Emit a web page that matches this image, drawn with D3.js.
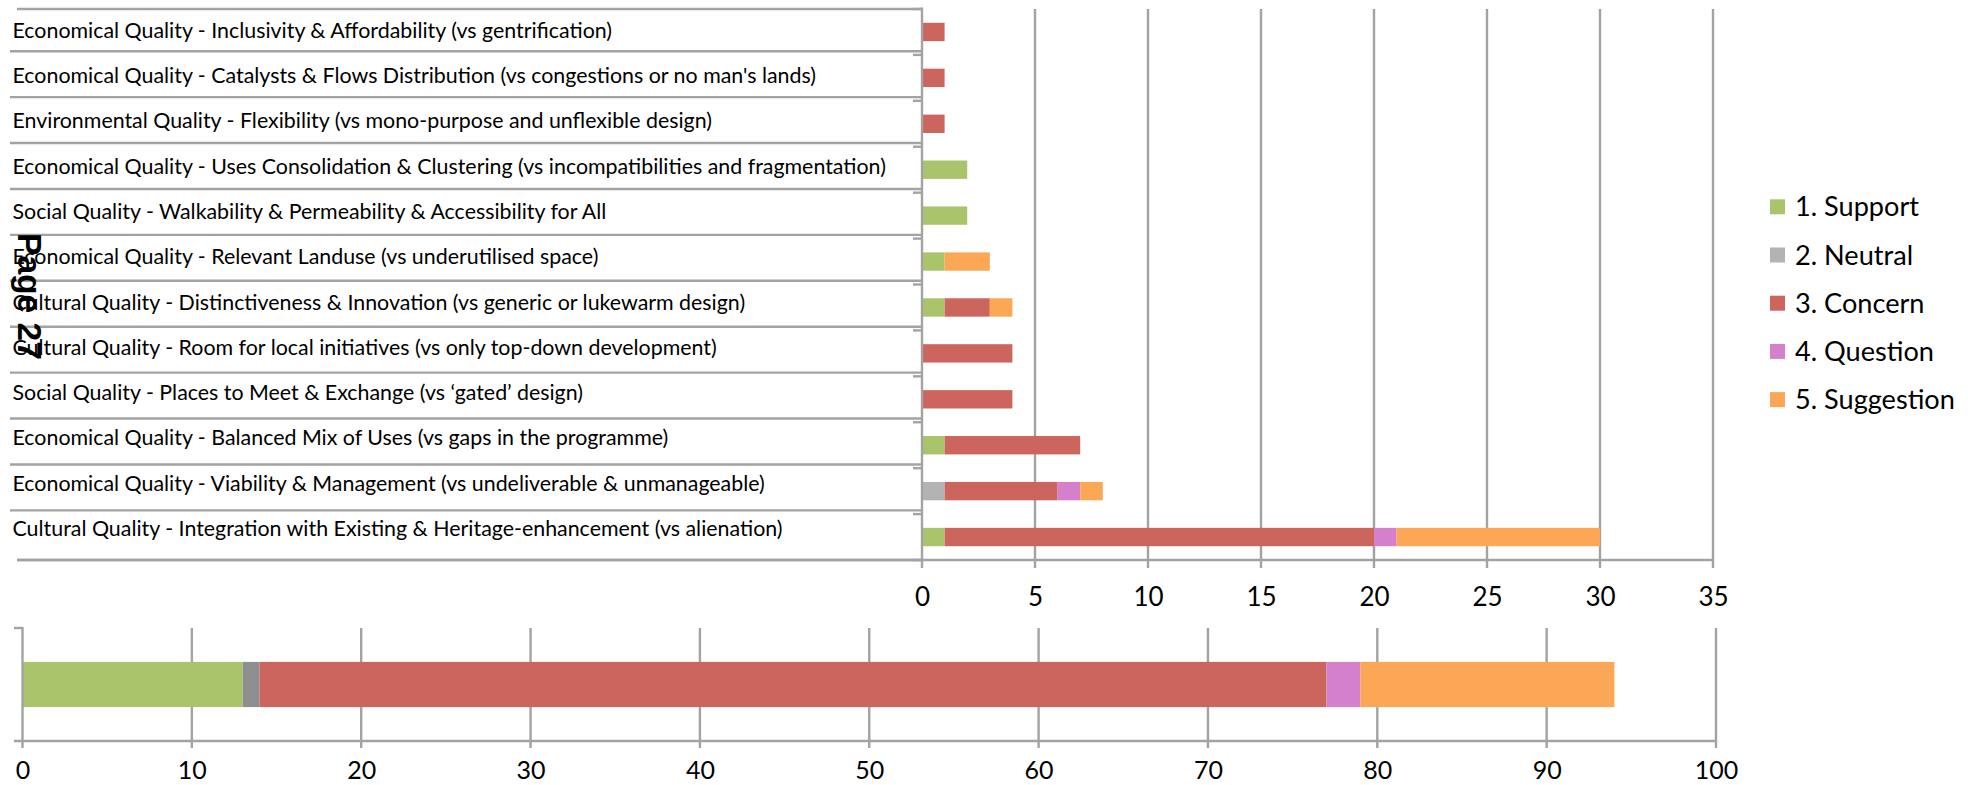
<!DOCTYPE html>
<html>
<head>
<meta charset="utf-8">
<script src="https://cdn.jsdelivr.net/npm/d3@7"></script>
<style>
  html, body { margin: 0; padding: 0; background: #ffffff; }
  svg { display: block; }
  text { font-family: Lato, "Open Sans", sans-serif; fill: #000; }
</style>
</head>
<body>
<svg id="chart" width="1968" height="785"></svg>
<script>
// ---------- data ----------
const categories = [
  "Economical Quality - Inclusivity & Affordability (vs gentrification)",
  "Economical Quality - Catalysts & Flows Distribution (vs congestions or no man's lands)",
  "Environmental Quality - Flexibility (vs mono-purpose and unflexible design)",
  "Economical Quality - Uses Consolidation & Clustering (vs incompatibilities and fragmentation)",
  "Social Quality - Walkability & Permeability & Accessibility for All",
  "Economical Quality - Relevant Landuse (vs underutilised space)",
  "Cultural Quality - Distinctiveness & Innovation (vs generic or lukewarm design)",
  "Cultural Quality - Room for local initiatives (vs only top-down development)",
  "Social Quality - Places to Meet & Exchange (vs \u2018gated\u2019 design)",
  "Economical Quality - Balanced Mix of Uses (vs gaps in the programme)",
  "Economical Quality - Viability & Management (vs undeliverable & unmanageable)",
  "Cultural Quality - Integration with Existing & Heritage-enhancement (vs alienation)"
];
const seriesNames = ["1. Support", "2. Neutral", "3. Concern", "4. Question", "5. Suggestion"];
const support    = [0, 0, 0, 2, 2, 1, 1, 0, 0, 1, 0, 1];
const neutral    = [0, 0, 0, 0, 0, 0, 0, 0, 0, 0, 1, 0];
const concern    = [1, 1, 1, 0, 0, 0, 2, 4, 4, 6, 5, 19];
const question   = [0, 0, 0, 0, 0, 0, 0, 0, 0, 0, 1, 1];
const suggestion = [0, 0, 0, 0, 0, 2, 1, 0, 0, 0, 1, 9];
const totals     = [13, 1, 63, 2, 15];   // bottom summary bar, per series
const topTicks    = [0, 5, 10, 15, 20, 25, 30, 35];
const bottomTicks = [0, 10, 20, 30, 40, 50, 60, 70, 80, 90, 100];
const pageLabel = "Page 27";

// ---------- styles ----------
const colors       = ["#aac46c", "#b3b3b3", "#cd655f", "#d480cc", "#fca755"];
const bottomColors = ["#aac46c", "#8f8f8f", "#cd655f", "#d480cc", "#fca755"];
const gridColor = "#a3a3a3";

const svg = d3.select("#chart");

// ---------- top chart ----------
const keys = seriesNames;
const seriesArrays = [support, neutral, concern, question, suggestion];
const rows = categories.map((c, i) => {
  const o = { cat: c };
  keys.forEach((k, j) => o[k] = seriesArrays[j][i]);
  return o;
});
const stacked = d3.stack().keys(keys)(rows);

const x = d3.scaleLinear().domain([0, 35]).range([922, 1713]);
const y = d3.scaleBand().domain(categories).range([9, 560])
  .paddingInner(0.6).paddingOuter(0.3);
const step = y.step();

// vertical gridlines
svg.append("g").selectAll("line").data(topTicks.filter(t => t > 0)).join("line")
  .attr("x1", d => x(d)).attr("x2", d => x(d))
  .attr("y1", 9).attr("y2", 568)
  .attr("stroke", gridColor).attr("stroke-width", 2.4);

// label area separator lines
const sepG = svg.append("g");
for (let k = 0; k <= categories.length; k++) {
  const b = 9 + k * step;
  let yy, x0;
  if (k === 0) { yy = 9; x0 = 17; }
  else if (k === categories.length) { yy = 560; x0 = 17; }
  else { yy = b - 3.7; x0 = 10; }
  sepG.append("line").attr("x1", x0).attr("x2", 922).attr("y1", yy).attr("y2", yy)
    .attr("stroke", gridColor).attr("stroke-width", 2.4);
  sepG.append("line").attr("x1", 913).attr("x2", 922).attr("y1", b).attr("y2", b)
    .attr("stroke", gridColor).attr("stroke-width", 2.4);
}

// bars
svg.append("g").selectAll("g").data(stacked).join("g")
  .attr("fill", (d, i) => colors[i])
  .selectAll("rect").data(d => d).join("rect")
  .attr("x", d => x(d[0]))
  .attr("width", d => x(d[1]) - x(d[0]))
  .attr("y", d => y(d.data.cat))
  .attr("height", y.bandwidth());

// axis lines
svg.append("line").attr("x1", x(0)).attr("x2", x(0)).attr("y1", 7.5).attr("y2", 568)
  .attr("stroke", gridColor).attr("stroke-width", 2.4);
svg.append("line").attr("x1", 17).attr("x2", x(35) + 1).attr("y1", 560).attr("y2", 560)
  .attr("stroke", gridColor).attr("stroke-width", 2.6);

// x tick labels via d3 axis
const xAxisTop = svg.append("g").attr("transform", "translate(0,560)")
  .call(d3.axisBottom(x).tickValues(topTicks).tickSize(0).tickPadding(0));
xAxisTop.select(".domain").remove();
xAxisTop.selectAll("text").attr("y", 46).attr("dy", null)
  .style("font-family", "Lato, sans-serif").style("font-size", "26px").attr("fill", "#000");

// category labels
const labG = svg.append("g");
const labels = labG.selectAll("text").data(categories).join("text")
  .attr("x", 12.5)
  .attr("y", (d, i) => 37.7 + i * 45.3)
  .style("font-size", "20px")
  .text(d => d);
// fit font size so first label is ~600px wide
const w0 = labels.nodes()[0].getComputedTextLength();
labels.style("font-size", (20 * 600 / w0) + "px");

// legend
const leg = svg.append("g");
const legTexts = [];
seriesNames.forEach((n, i) => {
  const cy = 206.8 + i * 48.2;
  leg.append("rect").attr("x", 1770).attr("y", cy - 7.5).attr("width", 15).attr("height", 15)
    .attr("fill", colors[i]);
  legTexts.push(leg.append("text").attr("x", 1795).attr("y", cy + 9.5)
    .style("font-size", "23px").text(n));
});
const wl = legTexts[4].node().getComputedTextLength();
legTexts.forEach(t => t.style("font-size", (23 * 160 / wl) + "px"));

// ---------- bottom chart ----------
const xb = d3.scaleLinear().domain([0, 100]).range([22.5, 1716]);
const yb = d3.scaleBand().domain(["Total"]).range([628, 741]).paddingInner(0.6).paddingOuter(0.3);
const totRow = { cat: "Total" };
keys.forEach((k, j) => totRow[k] = totals[j]);
const stackedB = d3.stack().keys(keys)([totRow]);

svg.append("g").selectAll("line").data(bottomTicks.filter(t => t > 0)).join("line")
  .attr("x1", d => xb(d)).attr("x2", d => xb(d))
  .attr("y1", 628).attr("y2", 748)
  .attr("stroke", gridColor).attr("stroke-width", 2.4);

svg.append("g").selectAll("rect").data(stackedB).join("rect")
  .attr("fill", (d, i) => bottomColors[i])
  .attr("x", d => xb(d[0][0]))
  .attr("width", d => xb(d[0][1]) - xb(d[0][0]))
  .attr("y", yb("Total"))
  .attr("height", yb.bandwidth());

svg.append("line").attr("x1", xb(0)).attr("x2", xb(0)).attr("y1", 627).attr("y2", 748)
  .attr("stroke", gridColor).attr("stroke-width", 2.4);
svg.append("line").attr("x1", 14).attr("x2", xb(0)).attr("y1", 628).attr("y2", 628)
  .attr("stroke", gridColor).attr("stroke-width", 2.4);
svg.append("line").attr("x1", 14).attr("x2", xb(100) + 1).attr("y1", 741).attr("y2", 741)
  .attr("stroke", gridColor).attr("stroke-width", 2.6);

const xAxisB = svg.append("g").attr("transform", "translate(0,741)")
  .call(d3.axisBottom(xb).tickValues(bottomTicks).tickSize(0).tickPadding(0));
xAxisB.select(".domain").remove();
xAxisB.selectAll("text").attr("y", 38).attr("dy", null)
  .style("font-family", "Lato, sans-serif").style("font-size", "25px").attr("fill", "#000");

// ---------- page label (rotated) ----------
const pl = svg.append("text")
  .attr("transform", "translate(18,233) rotate(90)")
  .attr("x", 0).attr("y", 0)
  .style("font-family", "'Liberation Sans', Arial, sans-serif")
  .style("font-weight", "bold").style("font-size", "34px")
  .text(pageLabel);
const wp = pl.node().getComputedTextLength();
pl.style("font-size", (34 * 127 / wp) + "px");
</script>
</body>
</html>
